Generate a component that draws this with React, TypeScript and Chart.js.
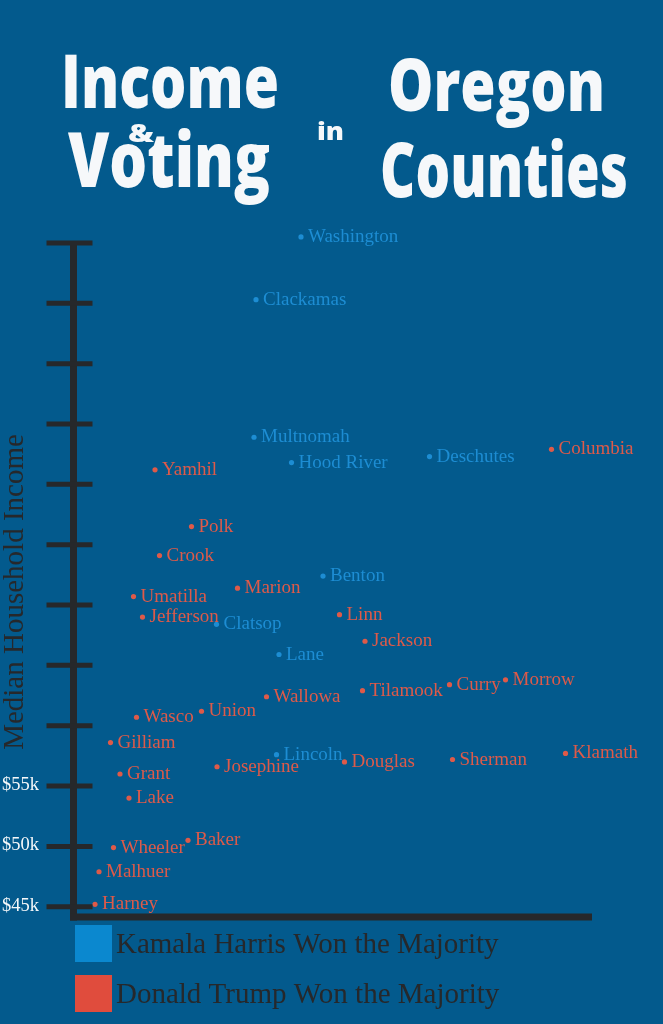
import React, { useEffect, useRef } from 'react';
import { Chart, registerables } from 'chart.js';

Chart.register(...registerables);

// ---------- data ----------
const harrisCounties = ['Washington', 'Clackamas', 'Multnomah', 'Hood River', 'Deschutes', 'Benton', 'Clatsop', 'Lane', 'Lincoln'];
const harrisIncome = [100.5, 95.3, 83.9, 81.8, 82.3, 72.4, 68.4, 65.9, 57.6];
const harrisSpread = [227.5, 182.5, 180.5, 218, 356, 249.5, 143, 205.5, 203];

const trumpCounties = ['Columbia', 'Yamhil', 'Polk', 'Crook', 'Marion', 'Umatilla', 'Jefferson', 'Linn', 'Jackson', 'Tilamook', 'Curry', 'Morrow', 'Wallowa', 'Union', 'Wasco', 'Gilliam', 'Douglas', 'Sherman', 'Klamath', 'Josephine', 'Grant', 'Lake', 'Baker', 'Wheeler', 'Malhuer', 'Harney'];
const trumpIncome = [82.9, 81.2, 76.5, 74.1, 71.4, 70.7, 69.0, 69.2, 67.0, 62.9, 63.4, 63.8, 62.4, 61.2, 60.7, 58.6, 57.0, 57.2, 57.7, 56.6, 56.0, 54.0, 50.5, 49.9, 47.9, 45.2];
const trumpSpread = [478, 81.5, 118, 86, 164, 60, 69, 266, 291.5, 289, 376, 432, 193, 128, 63, 37, 271, 379, 492, 143.5, 46.5, 55.5, 114.5, 40, 25.5, 21.5];

const incomeTicks = [45, 50, 55, 60, 65, 70, 75, 80, 85, 90, 95, 100];
const incomeTickLabels = ['$45k', '$50k', '$55k', '', '', '', '', '', '', '', '', ''];

const seriesLabels = ['Kamala Harris Won the Majority', 'Donald Trump Won the Majority'];
const yAxisTitle = 'Median Household Income';

// ---------- styles ----------
const W = 663;
const H = 1024;
const BG = '#035a8d';
const BLUE = '#1d8dd3';
const RED = '#de5a49';
const BLUE_BOX = '#0b88cf';
const RED_BOX = '#e04c3d';
const DARK = '#26282b';
const WHITE = '#f6f8fa';
const SERIF = '"Liberation Serif", "Times New Roman", serif';
const SANS = '"Open Sans", "Noto Sans", sans-serif';

function fitText(ctx: CanvasRenderingContext2D, text: string, left: number, right: number, baseline: number, size: number) {
  ctx.font = `800 ${size}px ${SANS}`;
  const w = ctx.measureText(text).width;
  const sx = (right - left) / w;
  ctx.save();
  ctx.translate(left, baseline);
  ctx.scale(sx, 1);
  ctx.textAlign = 'left';
  ctx.textBaseline = 'alphabetic';
  ctx.fillText(text, 0, 0);
  ctx.restore();
}

const decorPlugin = {
  id: 'decor',
  afterDraw(chart: any) {
    const ctx: CanvasRenderingContext2D = chart.ctx;
    const { left, right, bottom } = chart.chartArea;
    const y = chart.scales.y;

    ctx.save();
    // title
    ctx.fillStyle = WHITE;
    fitText(ctx, 'Income', 61, 279, 108, 74);
    fitText(ctx, '&', 128, 154, 142, 24);
    fitText(ctx, 'Voting', 68, 270, 187, 77);
    fitText(ctx, 'in', 317, 344, 140, 25);
    fitText(ctx, 'Oregon', 388, 605, 111, 73);
    fitText(ctx, 'Counties', 380, 628, 197, 77);

    // axes
    const axisTop = y.getPixelForValue(incomeTicks[incomeTicks.length - 1]);
    ctx.strokeStyle = DARK;
    ctx.lineCap = 'butt';
    ctx.lineWidth = 7;
    ctx.beginPath();
    ctx.moveTo(left, axisTop - 2);
    ctx.lineTo(left, bottom + 3.5);
    ctx.stroke();
    ctx.beginPath();
    ctx.moveTo(left - 3.5, bottom);
    ctx.lineTo(right, bottom);
    ctx.stroke();

    // ticks
    ctx.lineWidth = 5;
    incomeTicks.forEach((v, i) => {
      const py = y.getPixelForValue(v);
      ctx.beginPath();
      ctx.moveTo(left - 27, py);
      ctx.lineTo(left + 19, py);
      ctx.stroke();
      const lab = incomeTickLabels[i];
      if (lab) {
        ctx.fillStyle = WHITE;
        ctx.font = `18.5px ${SERIF}`;
        ctx.textAlign = 'left';
        ctx.textBaseline = 'middle';
        ctx.fillText(lab, 2, py - 1);
      }
    });

    // y title
    ctx.save();
    ctx.translate(15, 592);
    ctx.rotate(-Math.PI / 2);
    ctx.fillStyle = DARK;
    ctx.font = `29px ${SERIF}`;
    ctx.textAlign = 'center';
    ctx.textBaseline = 'middle';
    ctx.fillText(yAxisTitle, 0, 0);
    ctx.restore();

    // point labels
    ctx.font = `19px ${SERIF}`;
    ctx.textAlign = 'left';
    ctx.textBaseline = 'alphabetic';
    chart.data.datasets.forEach((ds: any, di: number) => {
      const meta = chart.getDatasetMeta(di);
      ctx.fillStyle = ds.backgroundColor;
      meta.data.forEach((el: any, i: number) => {
        ctx.fillText(ds.data[i].name, el.x + 7, el.y + 5);
      });
    });

    // legend
    const boxes = [BLUE_BOX, RED_BOX];
    const boxTops = [925, 975];
    seriesLabels.forEach((lab, i) => {
      ctx.fillStyle = boxes[i];
      ctx.fillRect(75, boxTops[i], 37, 37);
      ctx.fillStyle = DARK;
      ctx.font = `29px ${SERIF}`;
      ctx.textAlign = 'left';
      ctx.textBaseline = 'alphabetic';
      ctx.fillText(lab, 116, boxTops[i] + 28);
    });
    ctx.restore();
  },
};

export default function App() {
  const ref = useRef<HTMLCanvasElement>(null);
  useEffect(() => {
    const canvas = ref.current;
    if (!canvas) return;
    const chart = new Chart(canvas, {
      type: 'scatter',
      data: {
        datasets: [
          {
            label: seriesLabels[0],
            data: harrisCounties.map((name, i) => ({ x: harrisSpread[i], y: harrisIncome[i], name })),
            backgroundColor: BLUE,
            borderWidth: 0,
            pointRadius: 2.6,
            clip: false,
          } as any,
          {
            label: seriesLabels[1],
            data: trumpCounties.map((name, i) => ({ x: trumpSpread[i], y: trumpIncome[i], name })),
            backgroundColor: RED,
            borderWidth: 0,
            pointRadius: 2.6,
            clip: false,
          } as any,
        ],
      },
      options: {
        responsive: false,
        animation: false,
        devicePixelRatio: 1,
        events: [],
        layout: { padding: { left: 73.5, top: 230.9, right: 71, bottom: 107 } },
        scales: {
          x: { type: 'linear', display: false, min: 0, max: 518.5 },
          y: { type: 'linear', display: false, min: 44.15, max: 101 },
        },
        plugins: { legend: { display: false }, tooltip: { enabled: false } },
      },
      plugins: [decorPlugin],
    });
    const fonts: any = (document as any).fonts;
    if (fonts && fonts.load) {
      Promise.all([
        fonts.load(`800 74px "Open Sans"`),
        fonts.load(`19px "Liberation Serif"`),
      ]).then(() => chart.update()).catch(() => {});
    }
    return () => chart.destroy();
  }, []);
  return (
    <div style={{ position: 'absolute', left: 0, top: 0, width: W, height: H, background: BG }}>
      <canvas ref={ref} width={W} height={H} style={{ display: 'block' }} />
    </div>
  );
}
